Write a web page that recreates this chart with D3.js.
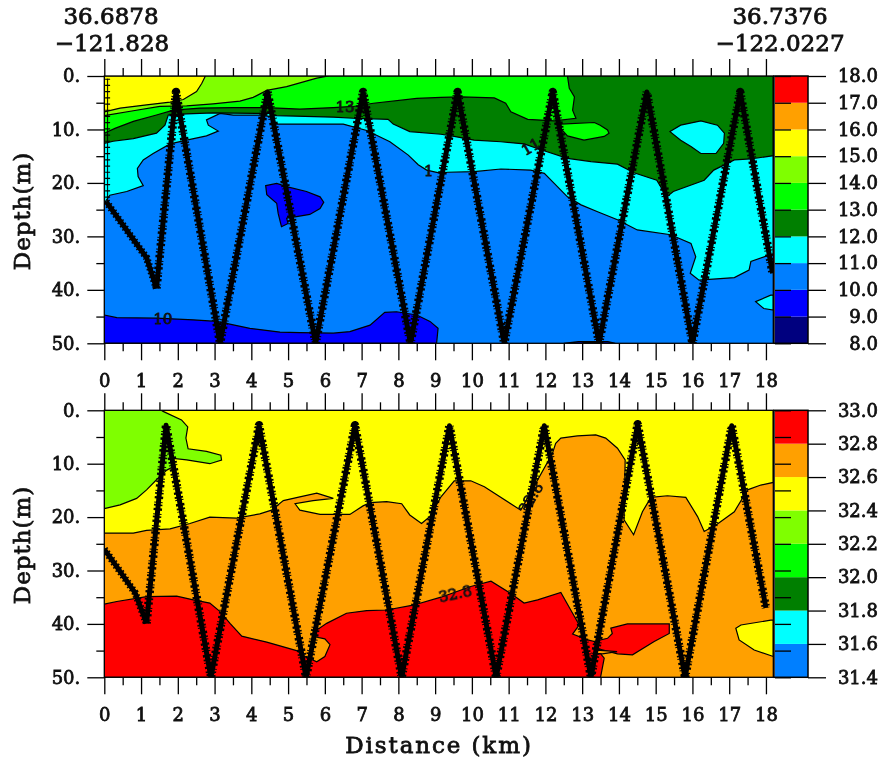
<!DOCTYPE html>
<html><head><meta charset="utf-8">
<style>html,body{margin:0;padding:0;background:#fff}svg{display:block;filter:blur(0.5px)}
text{font-family:"DejaVu Serif",serif;fill:#111;stroke:#111;stroke-width:.8px}</style>
<script src="https://cdnjs.cloudflare.com/ajax/libs/d3/7.8.5/d3.min.js"></script></head><body>
<svg id="c" width="882" height="763"></svg>
<script>
// ---- shared palette
const BAND_COLORS={navy:"#00007f",blue:"#0000ff",azure:"#007fff",cyan:"#00ffff",dkgreen:"#007f00",green:"#00ff00",lime:"#7fff00",yellow:"#ffff00",orange:"#ffa000",red:"#ff0000"};
const distanceTicks=d3.range(0,19);
const distanceMinor=d3.range(0.5,18,1);
const depthMajor=[0,10,20,30,40,50];
const depthMinor=[5,15,25,35,45];
// ---- temperature panel
const tempLevels=[8,9,10,11,12,13,14,15,16,17,18];
const tempBands=["navy","blue","azure","cyan","dkgreen","green","lime","yellow","orange","red"];
const tempCyan=[[0,23.8],[0.15,22.3],[0.61,21.6],[1.06,20.5],[0.92,18.8],[0.9,17.3],[1.06,15.7],[1.33,14.5],[1.79,12.7],[2.24,12],[2.78,11.2],[3.1,10.3],[2.83,9.2],[2.78,8.2],[3.15,7],[3.51,7.3],[4.23,7.3],[4.51,7.6],[4.69,9],[6.5,9],[7.14,10.2],[7.77,12.3],[8.27,14.8],[8.54,16.6],[8.77,17.6],[9.16,18.2],[9.34,18],[10.06,17.9],[10.79,17.4],[11.6,17.6],[11.97,18.2],[12.24,20.1],[12.6,22.6],[12.97,24.1],[13.42,25.4],[13.96,26.9],[14.5,28.8],[15.41,29.7],[15.96,31.3],[16.09,33.8],[15.94,36.9],[16.18,38.2],[17.14,37.7],[17.54,36.3],[17.59,34.7],[18,33.7],[18.2,33.5],[18.2,0],[0,0]];
const tempCyanPatchB=[[17.72,42.2],[18.13,41],[18.2,41],[18.2,43.8],[17.94,43.5]];
const tempDkGreen=[[0,12.6],[0.24,12.2],[0.79,11.7],[1.42,10.7],[1.65,9.2],[1.74,7.3],[2.24,7.1],[2.96,6.9],[4.14,7],[4.51,7],[4.69,7.4],[6.23,7.7],[6.77,7.9],[7.72,8.1],[7.86,9],[8.31,10.4],[9.16,10.9],[9.52,11.3],[10.06,12],[10.79,12.3],[11.42,12.7],[11.88,13.8],[12.6,15.4],[13.24,16],[13.96,16.5],[14.41,18.1],[15.03,19.5],[15.3,22.6],[15.48,21.6],[16.32,19.5],[16.58,17.6],[17.14,15.7],[17.59,15.5],[18.2,14.9],[18.2,0],[0,0]];
const tempCyanPatchA=[[15.39,10.4],[15.68,9.2],[16.23,8.4],[16.68,9.2],[16.87,10.7],[16.85,12.6],[16.64,14.5],[16.23,14.5],[15.96,13.2],[15.68,12]];
const tempGreen=[[0,10.7],[0.29,9.8],[0.79,8.5],[1.42,7.3],[1.88,6.4],[2.6,6],[3.51,5.9],[4.42,5.9],[5.32,6.2],[6.23,5.9],[6.77,5.7],[7.32,5.1],[8.5,4.2],[9.16,4],[9.7,3.9],[10.61,4.1],[10.92,5.1],[11.06,6.7],[11.52,8.1],[12.24,8.4],[12.83,7.9],[12.74,6.4],[12.79,3.9],[12.65,2.3],[12.6,0],[0,0]];
const tempGreenPatch=[[12.42,9],[13.33,8.7],[13.49,9.2],[13.69,10.1],[13.73,10.7],[13.6,11.3],[13.05,12],[12.6,11.2],[12.44,10]];
const tempLime=[[0,7.4],[0.79,6.5],[1.51,5.7],[2.24,5.6],[2.96,5.2],[3.69,4.7],[4.05,4],[4.42,2.7],[4.96,2],[5.78,0.4],[6.1,0],[0,0]];
const tempYellow=[[0,6.7],[0.43,6],[1.15,5.4],[1.79,4.9],[2.15,4.4],[2.51,2.9],[2.65,1.4],[2.75,0],[0,0]];
const tempBlueBottom=[[0,44.7],[0.34,45.2],[1.42,45.3],[2.42,45.6],[3.06,45.9],[3.96,47.2],[4.78,47.9],[5.32,48],[6.23,48.1],[6.68,47.8],[7.23,46.6],[7.63,44.2],[7.95,44.1],[8.5,44.7],[8.86,45.9],[9.08,47.2],[9.04,50],[0,50]];
const tempBluePatch=[[4.39,20.5],[4.69,20.1],[4.96,20.7],[5.5,21.6],[5.87,22.6],[5.97,23.6],[5.87,24.8],[5.59,25.9],[5.23,26.3],[4.96,26.6],[5,27.6],[4.82,28.2],[4.73,25.7],[4.69,23.8],[4.42,22.2]];
const tempBlueSliver=[[12.5,50],[12.9,49.7],[13.7,49.7],[13.9,50]];
const tempNavySliver=[[13,50],[13.05,49.8],[13.4,49.8],[13.45,50]];
const tempRegions=[["cyan",tempCyan],["cyan",tempCyanPatchB],["dkgreen",tempDkGreen],["cyan",tempCyanPatchA],["green",tempGreen],["green",tempGreenPatch],["lime",tempLime],["yellow",tempYellow],["blue",tempBlueBottom],["blue",tempBluePatch],["blue",tempBlueSliver],["navy",tempNavySliver]];
const tempTrackStart=[[0.05,23.5],[1.15,34],[1.42,39.7]];
const tempTrack=[[1.42,39.7],[1.95,3],[3.15,50],[4.44,3],[5.75,50],[7.04,3],[8.33,50],[9.61,3],[10.88,50],[12.2,3],[13.46,50],[14.76,3],[16,50],[17.3,3],[18.18,36.9]];
const tempCast=[[0.09,0.5],[0.09,23.5]];
const tempLabels=[["10",1.6,45.4,0],["13",6.55,5.7,0],["1",8.83,17.7,0],["11",11.6,13.2,-30]];
const tempLevelLabels=["8.0","9.0","10.0","11.0","12.0","13.0","14.0","15.0","16.0","17.0","18.0"];
// ---- salinity panel
const salLevels=[31.4,31.6,31.8,32,32.2,32.4,32.6,32.8,33];
const salBands=["azure","cyan","dkgreen","green","lime","yellow","orange","red"];
const salLevelLabels=["31.4","31.6","31.8","32.0","32.2","32.4","32.6","32.8","33.0"];
const salYellow=[[0,23],[0.79,23],[1.15,22.5],[1.79,22.2],[2.33,21.2],[2.87,20],[3.6,20.2],[4.23,19.4],[4.55,18.7],[4.87,16.9],[5.32,16.2],[5.78,15.5],[6.23,16.5],[5.68,16.9],[5.19,17.5],[5.32,18.7],[5.87,19.5],[6.68,19.5],[7.04,17.9],[7.23,17.3],[7.68,17.1],[8.09,17.5],[8.31,19.6],[8.63,21.2],[8.86,19.9],[9.16,16.2],[9.52,13.2],[9.97,13.2],[10.34,14.3],[11.33,18.7],[12.19,8.1],[12.28,6.2],[12.42,5.2],[12.87,4.8],[13.37,4.6],[13.64,5.2],[13.96,7.1],[14.17,9.3],[14.14,20.5],[14.4,23.3],[14.64,19],[14.87,16.3],[15.32,16],[15.82,16.3],[16.14,19.9],[16.32,22.7],[16.68,21.3],[17.14,19],[17.5,14.9],[17.86,14],[18.2,13.5],[18.2,0],[0,0]];
const salYellowPatch=[[17.18,40.8],[17.32,40.2],[18.13,39.3],[18.2,39.3],[18.2,46.1],[17.68,44.9],[17.27,43]];
const salLime=[[0,18.4],[0.43,17.7],[0.88,16.5],[1.15,14.9],[1.42,13],[1.7,11.2],[1.92,10.4],[1.88,9],[2.24,9.3],[2.87,10],[3.19,9.3],[3.17,8.4],[2.78,7.7],[2.28,7.2],[2.22,5.2],[2.27,3.1],[2.1,1.8],[1.6,0.2],[1.55,0],[0,0]];
const salRed=[[0,36.3],[0.34,35.8],[1.15,34.9],[1.97,34.8],[2.42,35.5],[2.87,36.1],[3.15,37.7],[3.42,39.9],[3.74,42.3],[4.42,43.4],[5.23,45],[5.46,46.1],[5.78,47.1],[6,46.1],[6.14,43.9],[6,42.8],[5.73,42.4],[5.73,41.4],[6.05,39.9],[6.59,38],[7.14,37.5],[7.68,37.4],[8.4,36.5],[9.16,35],[9.97,33],[10.52,32],[11.06,34.3],[11.42,36.1],[11.79,35.5],[12.42,34.1],[12.69,37.4],[12.92,40.2],[12.74,41.9],[13.15,43],[13.33,43.3],[13.42,44.9],[13.6,46.4],[13.5,50],[0,50]];
const salRedPatch=[[13.78,40.8],[14.23,40],[15.37,40],[15.37,41.8],[14.96,43.3],[14.37,45.8],[13.96,45.6],[13.42,44.6],[13.33,43.3],[13.69,42.7],[13.82,41.8]];
const salOrangeSliver=[[13.4,44.9],[13.95,45.2],[13.55,45.6],[13.4,45.5]];
const salRegions=[["yellow",salYellow],["yellow",salYellowPatch],["lime",salLime],["red",salRed],["red",salRedPatch],["orange",salOrangeSliver]];
const salTrackStart=[[0,26],[0.84,34.2],[1.15,39.9]];
const salTrack=[[1.15,39.9],[1.68,2.8],[2.9,50],[4.21,2.8],[5.49,50],[6.82,2.8],[8.09,50],[9.39,2.9],[10.66,50],[11.97,2.9],[13.24,50],[14.51,2.6],[15.8,50],[17.07,2.9],[18,37]];
const salLabels=[["32.8",9.55,34.4,-12],["32.8",11.6,16.4,-60]];
// ---- end points of the section
const startLat="36.6878",startLon="\u2212121.828",endLat="36.7376",endLon="\u2212122.0227";

const svg=d3.select("#c");
const x=d3.scaleLinear().domain([0,18.2]).range([104.3,773.3]);
const line=d3.line();

function panel(o){
  const y=d3.scaleLinear().domain([0,50]).range([o.y0,o.y1]);
  const c=d3.scaleLinear().domain(o.barDomain).range([o.y1,o.y0]);
  const frac=d3.scaleLinear().domain([0,1]).range([o.y1,o.y0]);
  const g=svg.append("g");
  const id="clip"+o.id;
  g.append("clipPath").attr("id",id).append("rect").attr("x",x(0)).attr("y",o.y0).attr("width",x(18.2)-x(0)).attr("height",o.y1-o.y0);
  const plot=g.append("g").attr("clip-path",`url(#${id})`);
  plot.append("rect").attr("x",x(0)).attr("y",o.y0).attr("width",x(18.2)-x(0)).attr("height",o.y1-o.y0).attr("fill",BAND_COLORS[o.base]);
  const proj=pts=>pts.map(p=>[x(p[0]),y(p[1])]);
  plot.selectAll("path.r").data(o.regions).join("path").attr("class","r")
    .attr("d",d=>line(proj(d[1]))+"Z").attr("fill",d=>BAND_COLORS[d[0]]).attr("stroke","#000").attr("stroke-width",1.2);
  plot.selectAll("text.l").data(o.labels).join("text").attr("class","l")
    .attr("transform",d=>`translate(${x(d[1])},${y(d[2])}) rotate(${d[3]})`)
    .attr("text-anchor","middle").attr("dy",".36em").attr("font-size",15).text(d=>d[0]);
  const tr=plot.append("g").attr("fill","none").attr("stroke","#000").attr("stroke-linejoin","round");
  if(o.cast){
    tr.append("path").attr("d",line(proj(o.cast))).attr("stroke-width",1);
    tr.append("path").attr("d",line(proj(o.cast))).attr("stroke-width",5).attr("stroke-dasharray","1.2 5");
  }
  tr.append("path").attr("d",line(proj(o.trackStart))).attr("stroke-width",5);
  tr.append("path").attr("d",line(proj(o.trackStart))).attr("stroke-width",7.5).attr("stroke-dasharray","1.6 2.4");
  tr.append("path").attr("d",line(proj(o.track))).attr("stroke-width",5);
  tr.append("path").attr("d",line(proj(o.track))).attr("stroke-width",8.5).attr("stroke-dasharray","1.7 1.4 1 3.1 2.4 2.2");
  // frame
  g.append("rect").attr("x",x(0)).attr("y",o.y0).attr("width",x(18.2)-x(0)).attr("height",o.y1-o.y0).attr("fill","none").attr("stroke","#000").attr("stroke-width",1.3);
  const ax=(gen)=>{const a=g.append("g").call(gen);a.select(".domain").remove();a.selectAll("line").attr("stroke","#000").attr("stroke-width",1.3);a.selectAll("text").attr("font-size",18).attr("font-family",'"DejaVu Serif",serif');return a;};
  ax(d3.axisTop(x).tickValues(distanceTicks).tickSize(17).tickFormat("")).attr("transform",`translate(0,${o.y0})`);
  ax(d3.axisTop(x).tickValues(distanceMinor).tickSize(8).tickFormat("")).attr("transform",`translate(0,${o.y0})`);
  ax(d3.axisBottom(x).tickValues(distanceTicks).tickSize(17).tickPadding(13.5).tickFormat(d=>d)).attr("transform",`translate(0,${o.y1})`);
  ax(d3.axisBottom(x).tickValues(distanceMinor).tickSize(8).tickFormat("")).attr("transform",`translate(0,${o.y1})`);
  ax(d3.axisLeft(y).tickValues(depthMajor).tickSize(17).tickPadding(7).tickFormat(d=>d+".")).attr("transform",`translate(${x(0)},0)`);
  ax(d3.axisLeft(y).tickValues(depthMinor).tickSize(8).tickFormat("")).attr("transform",`translate(${x(0)},0)`);
  // colour bar
  const bx=775,bw=33;
  g.selectAll("rect.b").data(o.bands).join("rect").attr("class","b")
    .attr("x",bx).attr("width",bw)
    .attr("y",(d,i)=>c(o.levels[i+1])).attr("height",(d,i)=>c(o.levels[i])-c(o.levels[i+1]))
    .attr("fill",d=>BAND_COLORS[d]);
  g.append("rect").attr("x",bx-1).attr("y",o.y0).attr("width",bw+1).attr("height",o.y1-o.y0).attr("fill","none").attr("stroke","#000").attr("stroke-width",1.5);
  const tickInner=d3.range(0,11).map(i=>i/10);
  ax(d3.axisRight(frac).tickValues(tickInner).tickSize(16).tickFormat("")).attr("transform",`translate(${bx},0)`);
  const ra=ax(d3.axisRight(c).tickValues(o.levels).tickSize(18).tickFormat((d,i)=>o.levelLabels[i])).attr("transform",`translate(${bx+bw},0)`);
  ra.selectAll("text").attr("text-anchor","end").attr("x",878-(bx+bw));
}

panel({id:"t",y0:76,y1:343.3,barDomain:[8,18],levels:tempLevels,bands:tempBands,levelLabels:tempLevelLabels,base:"azure",regions:tempRegions,labels:tempLabels,track:tempTrack,trackStart:tempTrackStart,cast:tempCast});
panel({id:"s",y0:410.3,y1:677.3,barDomain:[31.4,33],levels:salLevels,bands:salBands,levelLabels:salLevelLabels,base:"orange",regions:salRegions,labels:salLabels,track:salTrack,trackStart:salTrackStart});

// titles
const tt=(s,xp,yp,size,anchor="middle",rot=0,ls=0)=>svg.append("text").attr("transform",`translate(${xp},${yp}) rotate(${rot})`).attr("text-anchor",anchor).attr("font-size",size).attr("letter-spacing",ls).text(s);
tt(startLat,111,24,23);tt(startLon,112,50.7,23);
tt(endLat,780,24,23);tt(endLon,780,50.7,23);
tt("Depth(m)",30,211,23,"middle",-90,1);tt("Depth(m)",30,545,23,"middle",-90,1);
tt("Distance (km)",439,753,23,"middle",0,1.9);
</script></body></html>
